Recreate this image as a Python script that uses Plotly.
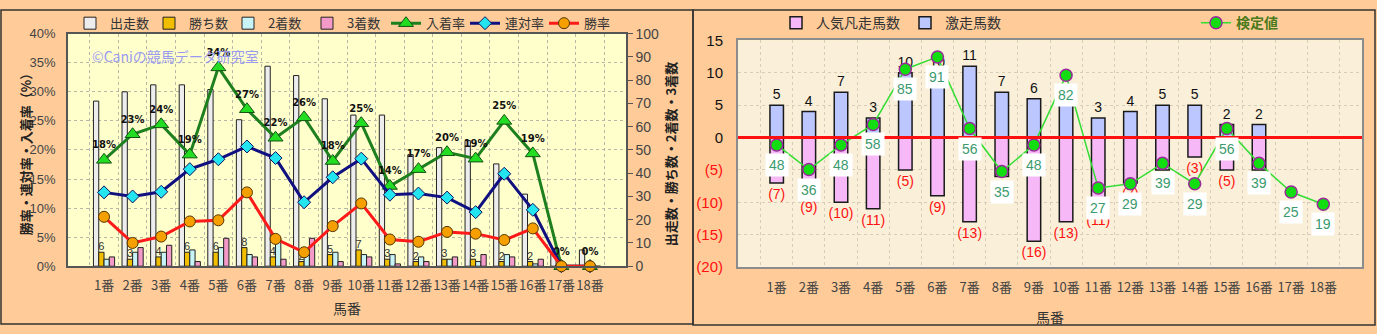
import plotly.graph_objects as go

W, H = 1377, 334

# ---------------- data ----------------
horses = ["1番", "2番", "3番", "4番", "5番", "6番", "7番", "8番", "9番",
          "10番", "11番", "12番", "13番", "14番", "15番", "16番", "17番", "18番"]

# left chart (counts)
starts = [71, 75, 78, 78, 76, 63, 86, 82, 72, 65, 65, 48, 51, 54, 44, 31, 6, 7]
wins = [6, 3, 4, 6, 6, 8, 4, 2, 5, 7, 3, 2, 3, 3, 2, 2, 0, 0]
seconds = [3, 6, 6, 7, 8, 5, 12, 7, 6, 5, 5, 4, 3, 2, 5, 1, 0, 0]
thirds = [4, 8, 9, 2, 12, 4, 3, 12, 2, 4, 1, 2, 4, 5, 4, 3, 0, 0]
win_labels = ["6", "3", "4", "6", "6", "8", "4", "2", "5", "7", "3", "2", "3", "3", "2", "2", "", ""]

# left chart (rates, %)
place_rate = [18.3, 22.7, 24.4, 19.2, 34.2, 27.0, 22.1, 25.6, 18.1, 24.6, 13.8, 16.7, 19.6, 18.5, 25.0, 19.4, 0, 0]
place_labels = ["18%", "23%", "24%", "19%", "34%", "27%", "22%", "26%", "18%", "25%",
                "14%", "17%", "20%", "19%", "25%", "19%", "0%", "0%"]
rentai_rate = [12.7, 12.0, 12.8, 16.7, 18.4, 20.6, 18.6, 11.0, 15.3, 18.5, 12.3, 12.5, 11.8, 9.3, 15.9, 9.7, 0, 0]
win_rate = [8.5, 4.0, 5.1, 7.7, 7.9, 12.7, 4.7, 2.4, 6.9, 10.8, 4.6, 4.2, 5.9, 5.6, 4.5, 6.5, 0, 0]

# right chart
surge = [5, 4, 7, 3, 10, 10, 11, 7, 6, 5, 3, 4, 5, 5, 2, 2, 0, 0]
flop = [-7, -9, -10, -11, -5, -9, -13, -6, -16, -13, -11, -7, -5, -3, -5, -5, 0, 0]
kentei = [48, 36, 48, 58, 85, 91, 56, 35, 48, 82, 27, 29, 39, 29, 56, 39, 25, 19]

surge_labels = [str(v) if v else "" for v in surge]
flop_labels = [f"({-v})" if v else "" for v in flop]

# right chart y ticks
r_tickvals = [15, 10, 5, 0, -5, -10, -15, -20]
r_ticktext = ["15", "10", "5", "0",
              "<span style='color:#FF1010'>(5)</span>",
              "<span style='color:#FF1010'>(10)</span>",
              "<span style='color:#FF1010'>(15)</span>",
              "<span style='color:#FF1010'>(20)</span>"]

# ---------------- geometry (pixels -> paper) ----------------
def px(x):
    return x / W

def py(y):
    return 1 - y / H

L_X = [px(68), px(626)]
L_Y = [py(271), py(26)]
R_X = [px(738), px(1362)]
R_Y = [py(272), py(33)]

JP = "Noto Sans CJK JP, sans-serif"
NUM = "Liberation Sans, Arial, sans-serif"

fig = go.Figure()

# ---------------- left chart: bars (count axis y) ----------------
bar_line = dict(color="#222222", width=1)
fig.add_trace(go.Bar(x=horses, y=starts, name="出走数", xaxis="x", yaxis="y",
                     marker=dict(color="#EDEDED", line=bar_line), legend="legend"))
fig.add_trace(go.Bar(x=horses, y=wins, name="勝ち数", xaxis="x", yaxis="y",
                     marker=dict(color="#F2BE00", line=bar_line), legend="legend",
                     text=win_labels, textposition="outside", textangle=0,
                     constraintext="none", cliponaxis=False,
                     textfont=dict(size=11, color="#333333", family=NUM)))
fig.add_trace(go.Bar(x=horses, y=seconds, name="2着数", xaxis="x", yaxis="y",
                     marker=dict(color="#C8F4F8", line=bar_line), legend="legend"))
fig.add_trace(go.Bar(x=horses, y=thirds, name="3着数", xaxis="x", yaxis="y",
                     marker=dict(color="#F39AC8", line=bar_line), legend="legend"))

# ---------------- left chart: lines (% axis y2) ----------------
fig.add_trace(go.Scatter(x=horses, y=place_rate, name="入着率", xaxis="x", yaxis="y2",
                         mode="lines+markers+text", text=place_labels,
                         textposition="top center", cliponaxis=False,
                         textfont=dict(size=10, color="#111111", family="DejaVu Sans", weight="bold"),
                         line=dict(color="#1E7F1E", width=3),
                         marker=dict(symbol="triangle-up", size=13, color="#22DD22",
                                     line=dict(color="#145214", width=1)),
                         legend="legend"))
fig.add_trace(go.Scatter(x=horses, y=rentai_rate, name="連対率", xaxis="x", yaxis="y2",
                         mode="lines+markers", cliponaxis=False,
                         line=dict(color="#101080", width=3),
                         marker=dict(symbol="diamond", size=10, color="#22E5F0",
                                     line=dict(color="#101060", width=1)),
                         legend="legend"))
fig.add_trace(go.Scatter(x=horses, y=win_rate, name="勝率", xaxis="x", yaxis="y2",
                         mode="lines+markers", cliponaxis=False,
                         line=dict(color="#FF1A1A", width=3),
                         marker=dict(symbol="circle", size=11, color="#F5A000",
                                     line=dict(color="#553300", width=1)),
                         legend="legend"))

# ---------------- right chart ----------------
fig.add_trace(go.Bar(x=horses, y=flop, name="人気凡走馬数", xaxis="x3", yaxis="y3",
                     offset=-0.21, width=0.42,
                     marker=dict(color="#F6B8F6", line=dict(color="#1a1a1a", width=1.5)),
                     text=flop_labels, textposition="outside", textangle=0,
                     constraintext="none", cliponaxis=False,
                     textfont=dict(size=14, color="#FF1010", family=NUM),
                     legend="legend2"))
fig.add_trace(go.Bar(x=horses, y=surge, name="激走馬数", xaxis="x3", yaxis="y3",
                     offset=-0.21, width=0.42,
                     marker=dict(color="#BCC6FF", line=dict(color="#1a1a1a", width=1.5)),
                     text=surge_labels, textposition="outside", textangle=0,
                     constraintext="none", cliponaxis=False,
                     textfont=dict(size=14, color="#111111", family=NUM),
                     legend="legend2"))
fig.add_trace(go.Scatter(x=horses, y=kentei, name="検定値", xaxis="x3", yaxis="y4",
                         mode="lines+markers", cliponaxis=False,
                         line=dict(color="#33DD33", width=1.5),
                         marker=dict(symbol="circle", size=12, color="#11DD11",
                                     line=dict(color="#9A2A9A", width=1.5)),
                         legend="legend3"))

annotations = []
for h, v in zip(horses, kentei):
    annotations.append(dict(x=h, y=v, xref="x3", yref="y4", text=str(v), showarrow=False,
                            yshift=-20, bgcolor="#FFFFFF", borderpad=3,
                            font=dict(size=14, color="#3A9A6E", family=NUM)))

annotations.append(dict(x=px(90), y=py(50), xref="paper", yref="paper",
                        text="©Caniの競馬データ研究室", showarrow=False,
                        xanchor="left", yanchor="middle",
                        font=dict(size=14, color="#9A9AF0", family=JP)))

# y-axis titles of the left chart
annotations.append(dict(x=px(25), y=py(150), xref="paper", yref="paper",
                        text="勝率・連対率・入着率（%）", showarrow=False, textangle=-90,
                        xanchor="center", yanchor="middle",
                        font=dict(size=13, color="#222222", family=JP, weight="bold")))
annotations.append(dict(x=px(670), y=py(153), xref="paper", yref="paper",
                        text="出走数・勝ち数・2着数・3着数", showarrow=False, textangle=-90,
                        xanchor="center", yanchor="middle",
                        font=dict(size=13, color="#222222", family=JP, weight="bold")))

shapes = [
    dict(type="rect", xref="paper", yref="paper", x0=px(1), x1=px(693), y0=py(332), y1=py(1),
         line=dict(color="#333333", width=1.5), layer="below"),
    dict(type="rect", xref="paper", yref="paper", x0=px(693), x1=px(1375), y0=py(333), y1=py(1),
         line=dict(color="#333333", width=1.5), layer="below"),
    dict(type="line", xref="x3 domain", x0=0, x1=1, yref="y3", y0=0, y1=0,
         line=dict(color="#FF1010", width=3), layer="above"),
]

grid = dict(gridcolor="#B8B8A8", griddash="dot", gridwidth=1)
tickfont = dict(size=13, color="#444444", family=JP)

fig.update_layout(
    width=W, height=H, autosize=False,
    margin=dict(l=0, r=0, t=0, b=0),
    paper_bgcolor="#FFCC99",
    plot_bgcolor="#FFFFCC",
    font=dict(family=JP, color="#333333"),
    barmode="group", bargap=0.26, bargroupgap=0,
    showlegend=True,
    xaxis=dict(domain=L_X, anchor="y", type="category", tickson="boundaries",
               showgrid=True, **grid, ticks="", tickfont=tickfont, tickangle=0,
               ticklabelstandoff=6,
               showline=True, linecolor="#555555", linewidth=1.5, mirror=True,
               title=dict(text="馬番", font=dict(size=14, color="#333333"), standoff=12)),
    yaxis=dict(domain=L_Y, anchor="x", side="right", range=[0, 100], dtick=10,
               showgrid=False, zeroline=False, ticks="outside", ticklen=5, tickcolor="#555555",
               tickfont=dict(size=14, color="#444444", family=NUM),
               showline=True, linecolor="#555555", linewidth=1.5),
    yaxis2=dict(anchor="x", overlaying="y", side="left", range=[0, 40], dtick=5,
                ticksuffix="%", showgrid=True, **grid, zeroline=False, ticks="",
                tickfont=dict(size=13, color="#444444", family=NUM), ticklabelstandoff=8,
                showline=True, linecolor="#555555", linewidth=1.5),
    xaxis3=dict(domain=R_X, anchor="y3", type="category", tickson="boundaries",
                showgrid=True, gridcolor="#D8CDB8", griddash="dot", ticks="", tickfont=tickfont,
                tickangle=0, ticklabelstandoff=7,
                showline=True, linecolor="#8C8C8C", linewidth=2, mirror=True,
                title=dict(text="馬番", font=dict(size=14, color="#333333"), standoff=18)),
    yaxis3=dict(domain=R_Y, anchor="x3", range=[-20, 15], tickvals=r_tickvals, ticktext=r_ticktext,
                showgrid=True, gridcolor="#D8CDB8", griddash="dot", zeroline=False, ticks="",
                tickfont=dict(size=15, color="#111111", family=NUM), ticklabelstandoff=10,
                showline=True, linecolor="#8C8C8C", linewidth=2, mirror=True),
    yaxis4=dict(anchor="x3", overlaying="y3", range=[-11.7, 99.1], visible=False),
    legend=dict(orientation="h", x=px(70), y=py(15), xanchor="left", yanchor="middle",
                bgcolor="rgba(0,0,0,0)", font=dict(size=13, color="#333333", family=JP),
                entrywidth=34, traceorder="normal"),
    legend2=dict(orientation="h", x=px(776), y=py(15), xanchor="left", yanchor="middle",
                 bgcolor="rgba(0,0,0,0)", font=dict(size=14, color="#333333", family=JP),
                 traceorder="normal"),
    legend3=dict(orientation="h", x=px(1196), y=py(15), xanchor="left", yanchor="middle",
                 bgcolor="rgba(0,0,0,0)", font=dict(size=14, color="#4A7A1A", family=JP, weight="bold")),
    annotations=annotations,
    shapes=shapes,
)

# right plot background (parchment)
fig.add_shape(type="rect", xref="x3 domain", yref="y3 domain", x0=0, x1=1, y0=0, y1=1,
              fillcolor="#FAF0DA", line=dict(width=0), layer="below")

fig.write_html("out.html")
